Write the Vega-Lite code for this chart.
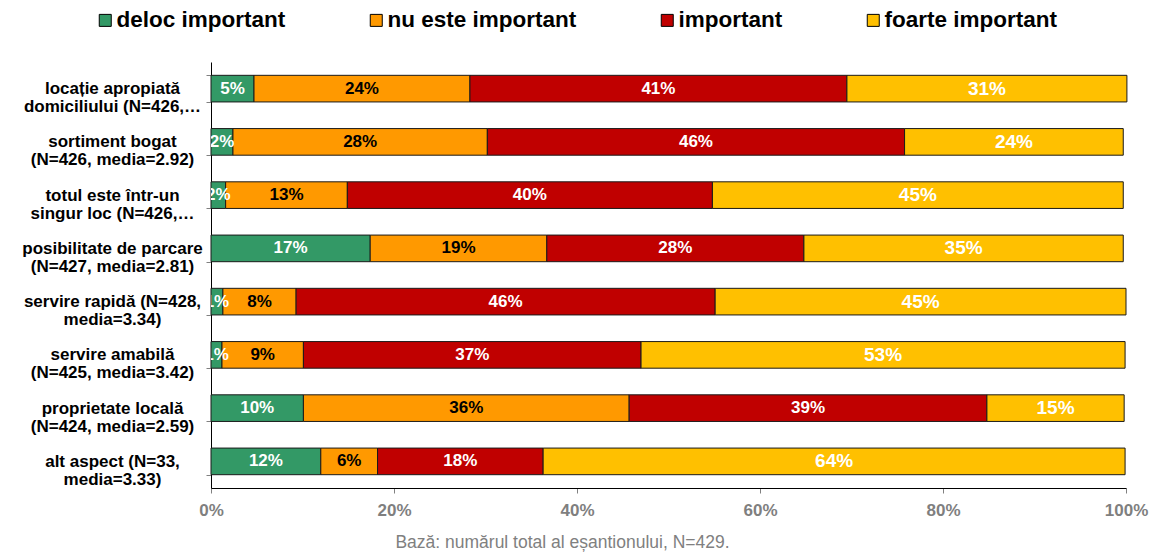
{
  "$schema": "https://vega.github.io/schema/vega-lite/v6.json",
  "width": 915,
  "height": 426,
  "autosize": {"type": "none"},
  "padding": {"left": 211, "top": 62, "right": 25, "bottom": 64},
  "background": "white",
  "config": {"view": {"stroke": null}, "font": "Liberation Sans"},
  "title": {
    "text": "Bază: numărul total al eșantionului, N=429.",
    "orient": "bottom",
    "anchor": "middle",
    "dx": -106,
    "offset": 16,
    "fontSize": 17.5,
    "fontWeight": "normal",
    "color": "#808080",
    "font": "Liberation Sans"
  },
  "data": {
    "values": [
      {"a": "locație apropiată|domiciliului (N=426,…", "c": "deloc important", "k": 1, "v": 0.047},
      {"a": "locație apropiată|domiciliului (N=426,…", "c": "nu este important", "k": 2, "v": 0.236},
      {"a": "locație apropiată|domiciliului (N=426,…", "c": "important", "k": 3, "v": 0.412},
      {"a": "locație apropiată|domiciliului (N=426,…", "c": "foarte important", "k": 4, "v": 0.306},
      {"a": "sortiment bogat|(N=426, media=2.92)", "c": "deloc important", "k": 1, "v": 0.024},
      {"a": "sortiment bogat|(N=426, media=2.92)", "c": "nu este important", "k": 2, "v": 0.278},
      {"a": "sortiment bogat|(N=426, media=2.92)", "c": "important", "k": 3, "v": 0.456},
      {"a": "sortiment bogat|(N=426, media=2.92)", "c": "foarte important", "k": 4, "v": 0.239},
      {"a": "totul este într-un|singur loc (N=426,…", "c": "deloc important", "k": 1, "v": 0.016},
      {"a": "totul este într-un|singur loc (N=426,…", "c": "nu este important", "k": 2, "v": 0.133},
      {"a": "totul este într-un|singur loc (N=426,…", "c": "important", "k": 3, "v": 0.399},
      {"a": "totul este într-un|singur loc (N=426,…", "c": "foarte important", "k": 4, "v": 0.449},
      {"a": "posibilitate de parcare|(N=427, media=2.81)", "c": "deloc important", "k": 1, "v": 0.174},
      {"a": "posibilitate de parcare|(N=427, media=2.81)", "c": "nu este important", "k": 2, "v": 0.193},
      {"a": "posibilitate de parcare|(N=427, media=2.81)", "c": "important", "k": 3, "v": 0.281},
      {"a": "posibilitate de parcare|(N=427, media=2.81)", "c": "foarte important", "k": 4, "v": 0.349},
      {"a": "servire rapidă (N=428,|media=3.34)", "c": "deloc important", "k": 1, "v": 0.013},
      {"a": "servire rapidă (N=428,|media=3.34)", "c": "nu este important", "k": 2, "v": 0.080},
      {"a": "servire rapidă (N=428,|media=3.34)", "c": "important", "k": 3, "v": 0.458},
      {"a": "servire rapidă (N=428,|media=3.34)", "c": "foarte important", "k": 4, "v": 0.449},
      {"a": "servire amabilă|(N=425, media=3.42)", "c": "deloc important", "k": 1, "v": 0.012},
      {"a": "servire amabilă|(N=425, media=3.42)", "c": "nu este important", "k": 2, "v": 0.089},
      {"a": "servire amabilă|(N=425, media=3.42)", "c": "important", "k": 3, "v": 0.369},
      {"a": "servire amabilă|(N=425, media=3.42)", "c": "foarte important", "k": 4, "v": 0.529},
      {"a": "proprietate locală|(N=424, media=2.59)", "c": "deloc important", "k": 1, "v": 0.101},
      {"a": "proprietate locală|(N=424, media=2.59)", "c": "nu este important", "k": 2, "v": 0.356},
      {"a": "proprietate locală|(N=424, media=2.59)", "c": "important", "k": 3, "v": 0.391},
      {"a": "proprietate locală|(N=424, media=2.59)", "c": "foarte important", "k": 4, "v": 0.150},
      {"a": "alt aspect (N=33,|media=3.33)", "c": "deloc important", "k": 1, "v": 0.120},
      {"a": "alt aspect (N=33,|media=3.33)", "c": "nu este important", "k": 2, "v": 0.062},
      {"a": "alt aspect (N=33,|media=3.33)", "c": "important", "k": 3, "v": 0.181},
      {"a": "alt aspect (N=33,|media=3.33)", "c": "foarte important", "k": 4, "v": 0.636}
    ]
  },
  "encoding": {
    "y": {
      "field": "a",
      "type": "nominal",
      "sort": null,
      "scale": {"paddingInner": 0.5, "paddingOuter": 0.25},
      "axis": {
        "title": null,
        "labelExpr": "split(datum.label, '|')",
        "labelAlign": "center",
        "labelPadding": 94,
        "tickSize": 5,
        "tickBand": "extent",
        "tickColor": "#808080",
        "domainColor": "black",
        "labelFontSize": 17,
        "labelFontWeight": "bold",
        "labelColor": "black",
        "labelLineHeight": 18,
        "labelLimit": 300,
        "labelFont": "Liberation Sans"
      }
    }
  },
  "layer": [
    {
      "mark": {"type": "bar", "stroke": "#1a1a1a", "strokeWidth": 1},
      "encoding": {
        "x": {
          "field": "v",
          "type": "quantitative",
          "stack": "zero",
          "scale": {"domain": [0, 1]},
          "axis": {
            "title": null,
            "format": ".0%",
            "values": [0, 0.2, 0.4, 0.6, 0.8, 1],
            "labelFontSize": 17,
            "labelFontWeight": "bold",
            "labelColor": "#7f7f7f",
            "labelFlush": false,
            "labelFont": "Liberation Sans",
            "tickColor": "#808080",
            "tickSize": 5,
            "domainColor": "black",
            "grid": false,
            "labelPadding": 9
          }
        },
        "color": {
          "field": "c",
          "type": "nominal",
          "sort": ["deloc important", "nu este important", "important", "foarte important"],
          "scale": {
            "domain": ["deloc important", "nu este important", "important", "foarte important"],
            "range": ["#339966", "#FF9900", "#C00000", "#FFC000"]
          },
          "legend": {
            "title": null,
            "orient": "none",
            "direction": "horizontal",
            "legendX": -117,
            "legendY": -53,
            "symbolType": "square",
            "symbolSize": 144,
            "symbolStrokeColor": "black",
            "symbolStrokeWidth": 1,
            "symbolOpacity": 1,
            "labelFontSize": 22.5,
            "labelFontWeight": "bold",
            "labelColor": "black",
            "labelFont": "Liberation Sans",
            "columnPadding": 79,
            "labelOffset": 0,
            "labelLimit": 400,
            "padding": 0
          }
        },
        "order": {"field": "k", "type": "quantitative"}
      }
    },
    {
      "mark": {"type": "text", "fontWeight": "bold", "clip": true, "font": "Liberation Sans", "baseline": "middle", "align": "center"},
      "encoding": {
        "x": {"field": "v", "type": "quantitative", "stack": "zero", "bandPosition": 0.5},
        "detail": {"field": "c", "type": "nominal"},
        "order": {"field": "k", "type": "quantitative"},
        "text": {"field": "v", "type": "quantitative", "format": ".0%"},
        "color": {
          "condition": {"test": "datum.c === 'nu este important'", "value": "black"},
          "value": "white"
        },
        "size": {
          "condition": {"test": "datum.c === 'foarte important'", "value": 19},
          "value": 17
        }
      }
    }
  ]
}
